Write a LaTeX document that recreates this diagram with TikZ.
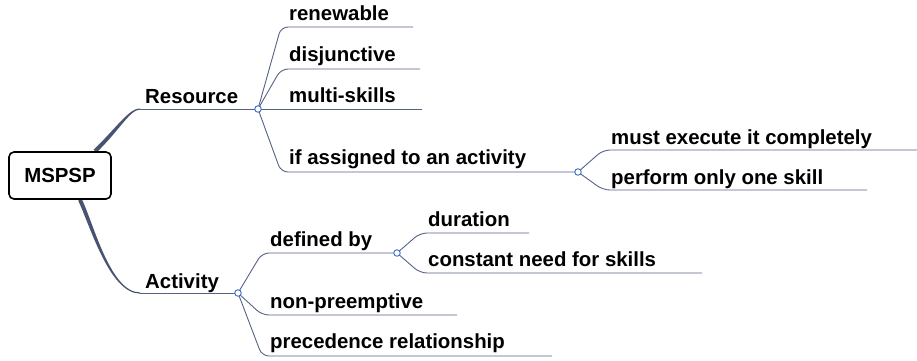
\documentclass[tikz,border=0pt]{standalone}
\usepackage{fontspec}
\setmainfont{Liberation Sans}
\usetikzlibrary{calc,backgrounds}
\definecolor{branch}{RGB}{84,98,132}
\definecolor{rootline}{RGB}{72,84,114}
\definecolor{dotblue}{RGB}{58,104,206}
\begin{document}
\begin{tikzpicture}[x=1pt,y=-1pt,
  font=\bfseries\fontsize{20.4}{24}\selectfont,
  lbl/.style={anchor=base west, inner sep=0pt},
  br/.style={draw=branch, line width=0.9pt, rounded corners=7pt},
  dot/.style={circle, draw=dotblue, fill=white, line width=0.9pt, inner sep=0pt, minimum size=6.5pt},
  rootbox/.style={draw=black, fill=white, line width=1.6pt, rounded corners=5pt, minimum width=102pt, minimum height=47pt, inner sep=0pt}]
\useasboundingbox (0,0) rectangle (917,360);

% root
\node[rootbox] (root) at (60,175.5) {MSPSP};

% coordinates
\coordinate (rtop) at ($(root.north)+(35,0)$);
\coordinate (rbot) at ($(root.south)+(20,0)$);
\coordinate (resS) at (140,109);
\coordinate (c1) at (258,109);
\coordinate (actS) at (140,293);
\coordinate (c2) at (238,293);
\coordinate (c3) at (578,172);
\coordinate (c4) at (397,253);

\coordinate (renS) at (281,27);  \coordinate (renE) at (413,27);
\coordinate (disS) at (281,69);  \coordinate (disE) at (420,69);
\coordinate (mulE) at (422,109);
\coordinate (ifS) at (281,172);
\coordinate (musS) at (603,150); \coordinate (musE) at (917,150);
\coordinate (perS) at (603,190); \coordinate (perE) at (867,190);
\coordinate (defS) at (262,253);
\coordinate (nonS) at (262,315); \coordinate (nonE) at (457,315);
\coordinate (preS) at (262,356); \coordinate (preE) at (552,356);
\coordinate (durS) at (420,233); \coordinate (durE) at (529,233);
\coordinate (conS) at (420,273); \coordinate (conE) at (702,273);

\begin{scope}[on background layer]
% tapered root connectors
\fill[rootline] ($(rtop)+(1.4,1.4)$) .. controls (119.4,130.4) and (130,109.6) .. ($(resS)+(0,0.6)$)
  -- ($(resS)+(0,-0.6)$) .. controls (129,108.4) and (116.6,127.6) .. ($(rtop)+(-1.4,-1.4)$) -- cycle;
\fill[rootline] ($(rbot)+(1.8,-0.8)$) .. controls (93.8,224.2) and (110.5,292.4) .. ($(actS)+(0,-0.6)$)
  -- ($(actS)+(0,0.6)$) .. controls (109.5,293.6) and (90.2,225.8) .. ($(rbot)+(-1.8,0.8)$) -- cycle;
\end{scope}

% branch lines
\draw[br] (resS) -- (c1);
\draw[br] (actS) -- (c2);
\draw[br] (c1) -- (renS) -- (renE);
\draw[br] (c1) -- (disS) -- (disE);
\draw[br] (c1) -- (mulE);
\draw[br] (c1) -- (ifS) -- (c3);
\draw[br] (c3) -- (musS) -- (musE);
\draw[br] (c3) -- (perS) -- (perE);
\draw[br] (c2) -- (defS) -- (c4);
\draw[br] (c2) -- (nonS) -- (nonE);
\draw[br] (c2) -- (preS) -- (preE);
\draw[br] (c4) -- (durS) -- (durE);
\draw[br] (c4) -- (conS) -- (conE);

% junction dots
\node[dot] (d1) at (c1) {};
\node[dot] (d2) at (c2) {};
\node[dot] (d3) at (c3) {};
\node[dot] (d4) at (c4) {};

% labels
\node[lbl] (res) at (145,103) {Resource};
\node[lbl] (act) at (145,288) {Activity};
\node[lbl] (ren) at (289,20) {renewable};
\node[lbl] (dis) at (289,61) {disjunctive};
\node[lbl] (mul) at (289,102) {multi-skills};
\node[lbl] (ifa) at (289,164) {if assigned to an activity};
\node[lbl] (mus) at (611,144) {must execute it completely};
\node[lbl] (per) at (611,184) {perform only one skill};
\node[lbl] (def) at (270,246) {defined by};
\node[lbl] (non) at (270,308) {non-preemptive};
\node[lbl] (pre) at (270,348) {precedence relationship};
\node[lbl] (dur) at (428,226) {duration};
\node[lbl] (con) at (428,266) {constant need for skills};
\end{tikzpicture}
\end{document}
